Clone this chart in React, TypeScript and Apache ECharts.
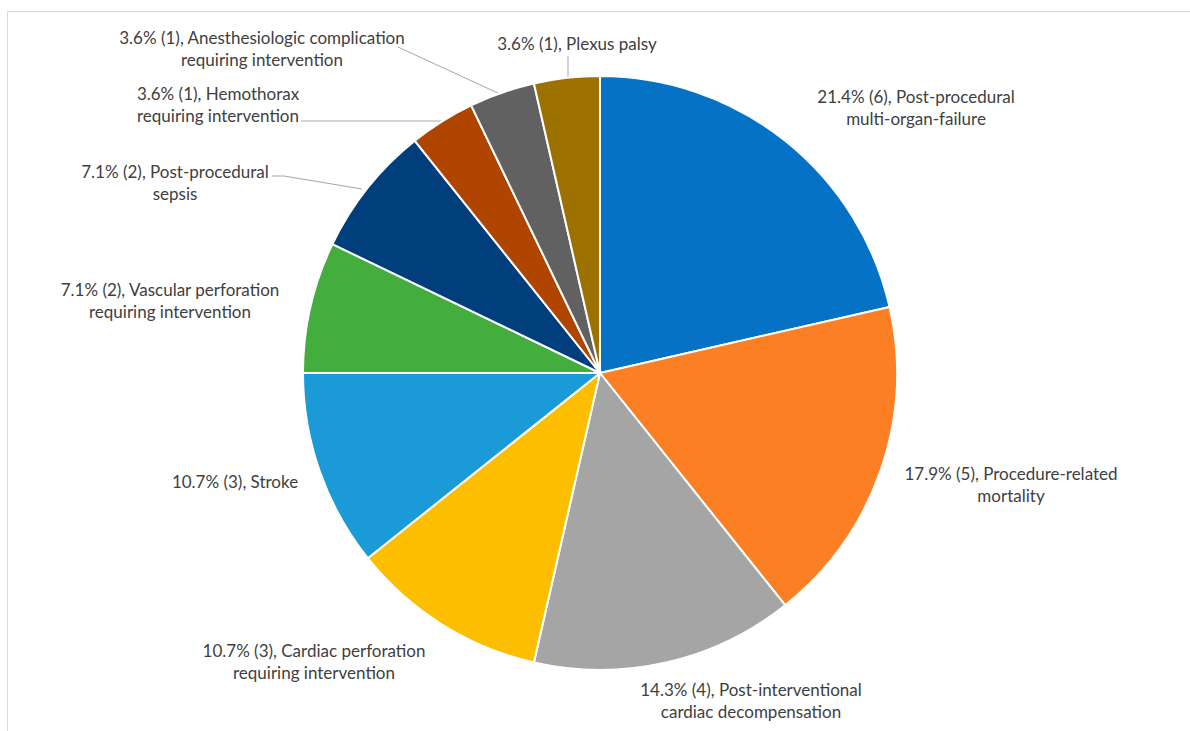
import React, { useEffect, useRef } from "react";
import * as echarts from "echarts";

const categories = [
  "Post-procedural\nmulti-organ-failure",
  "Procedure-related\nmortality",
  "Post-interventional\ncardiac decompensation",
  "Cardiac perforation\nrequiring intervention",
  "Stroke",
  "Vascular perforation\nrequiring intervention",
  "Post-procedural\nsepsis",
  "Hemothorax\nrequiring intervention",
  "Anesthesiologic complication\nrequiring intervention",
  "Plexus palsy",
];
const counts = [6, 5, 4, 3, 3, 2, 2, 1, 1, 1];
const colors = [
  "#0672C6",
  "#FD7F23",
  "#A5A5A5",
  "#FEBE00",
  "#1A9BD7",
  "#43AD3D",
  "#003F7C",
  "#B04500",
  "#616161",
  "#9D7100",
];

// label layout (centre of each label block) and leader lines
const labelCentres: [number, number][] = [
  [916, 107],
  [1011, 484],
  [751, 700],
  [314, 661],
  [235, 481],
  [170, 300],
  [175, 182],
  [218, 104],
  [262, 48],
  [577, 43],
];
const leaders: ([number, number][] | null)[] = [
  null,
  null,
  null,
  null,
  null,
  null,
  [[272, 176], [284, 176], [362, 189]],
  [[301, 121], [420, 121], [441, 121]],
  [[398, 47], [398, 47], [500, 94]],
  [[568, 56], [568, 56], [568, 77]],
];

export default function App() {
  const ref = useRef<HTMLDivElement>(null);
  useEffect(() => {
    if (!ref.current) return;
    const chart = echarts.init(ref.current, null, { renderer: "svg" });
    const total = counts.reduce((a, b) => a + b, 0);
    chart.setOption({
      animation: false,
      backgroundColor: "#ffffff",
      graphic: [
        {
          type: "rect",
          shape: { x: 7.5, y: 11.5, width: 1300, height: 900 },
          style: { fill: "none", stroke: "#D9D9D9", lineWidth: 1 },
          silent: true,
        },
      ],
      series: [
        {
          type: "pie",
          center: [600, 373],
          radius: 297,
          startAngle: 90,
          clockwise: true,
          avoidLabelOverlap: false,
          itemStyle: { borderColor: "#ffffff", borderWidth: 2 },
          label: {
            show: true,
            position: "outside",
            color: "#404040",
            fontFamily: "Lato",
            fontSize: 17,
            lineHeight: 22,
            align: "center",
            formatter: (p: any) =>
              `${((p.value / total) * 100).toFixed(1)}% (${p.value}), ${p.name}`,
          },
          labelLine: {
            show: true,
            lineStyle: { color: "#A6A6A6", width: 1 },
          },
          labelLayout: (params: any) => {
            const i = params.dataIndex;
            const c = labelCentres[i];
            const out: any = {
              x: c[0],
              y: c[1],
              align: "center",
              verticalAlign: "middle",
            };
            if (leaders[i]) out.labelLinePoints = leaders[i];
            return out;
          },
          data: categories.map((name, i) => ({
            name,
            value: counts[i],
            itemStyle: { color: colors[i] },
            labelLine: { show: leaders[i] !== null },
          })),
        },
      ],
    });
    return () => chart.dispose();
  }, []);
  return (
    <div
      ref={ref}
      style={{ position: "fixed", left: 0, top: 0, width: 1190, height: 731 }}
    />
  );
}
